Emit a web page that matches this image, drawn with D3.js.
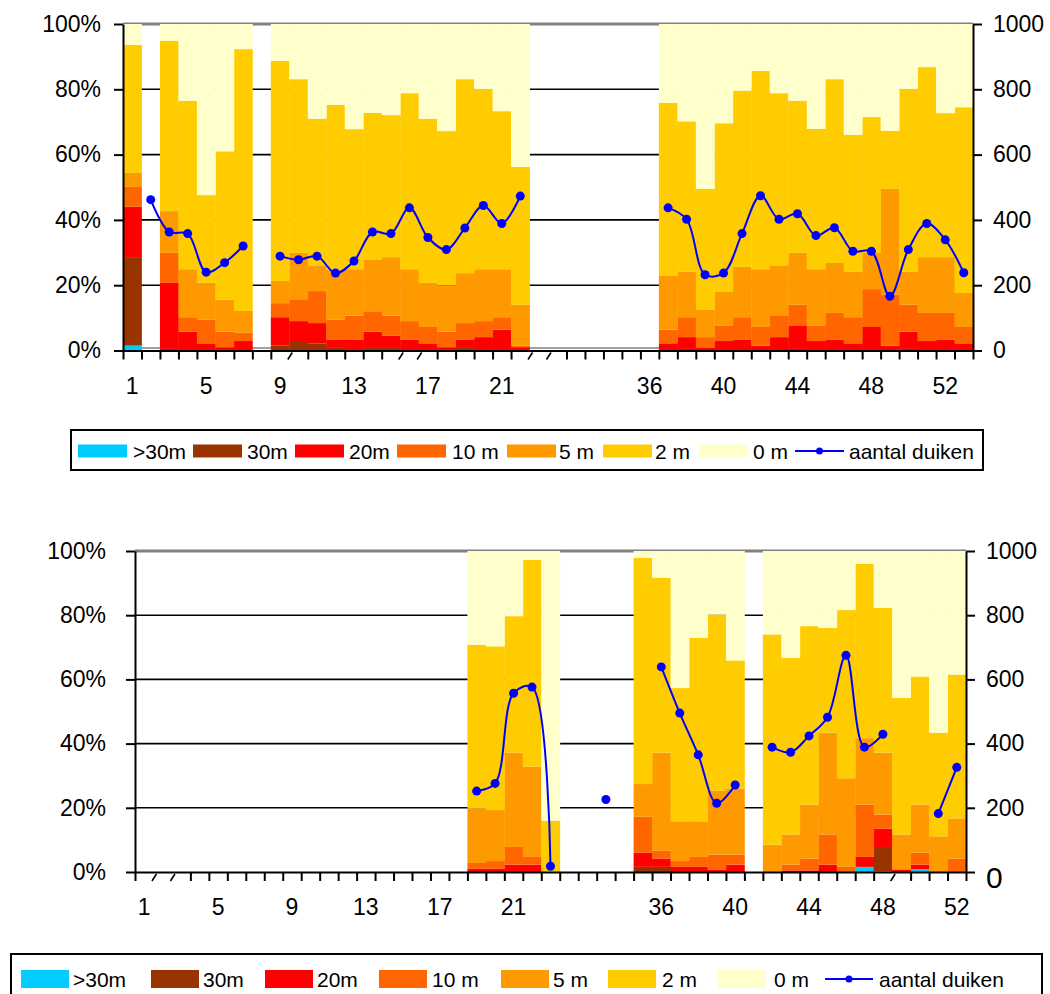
<!DOCTYPE html>
<html>
<head>
<meta charset="utf-8">
<script src="https://cdn.jsdelivr.net/npm/d3@7"></script>
<style>
  body { margin: 0; background: #fff; }
  svg { display: block; font-family: "Liberation Sans", Arial, sans-serif; }
</style>
</head>
<body>
<div id="chart"></div>
<script>
const _ = null;

// depth classes, bottom to top of each stack
const depthKeys = [">30m", "30m", "20m", "10 m", "5 m", "2 m", "0 m"];
const depthColors = ["#00ccff", "#993300", "#ff0000", "#ff6600", "#ff9900", "#ffcc00", "#ffffcc"];

// category labels (six unnamed categories between week 22 and 36)
const weeksA = ["1","2","3","4","5","6","7","8","9","10","11","12","13","14","15","16","17","18","19","20","21","22",
  "","","","","","",
  "36","37","38","39","40","41","42","43","44","45","46","47","48","49","50","51","52","53"];
const weeksB = ["1","2","3","4","5","6","7","8","9","10","11","12","13","14","15","16","17","18","19","20","21","22",
  "","","","","","",
  "36","37","38","39","40","41","42","43","44","45","46","47","48","49","50","51","52"];

// ---- upper chart: share of dives per depth (%) ----
const a_gt30 = [1.5,_,0,0,0,0,0,_,0,0,0,0,0,0,0,0,0,0,0,0,0,0,_,_,_,_,_,_,_,0,0,0,0,0,0,0,0,0,0,0,0,0,0,0,0,0];
const a_30   = [27.1,_,0.5,0,0,0,0,_,1.5,2.9,2.2,1,0,0.8,0.8,0,0,0,0.8,0,0,0,_,_,_,_,_,_,_,0,0.5,0,0,0,0,0,0.5,0,0,0,0,0,0.5,0,0,0];
const a_20   = [15.4,_,20.2,5.8,2.2,1,2.9,_,8.7,6.1,6.2,2.4,3.4,5,3.8,3.4,2.2,1,2.6,4.1,6.4,1,_,_,_,_,_,_,_,2.2,3.6,0.8,2.9,3.4,1.5,4.1,7.2,2.9,3.4,2.2,7.2,1.5,5.3,2.9,3.4,2.2];
const a_10   = [6.1,_,9.2,4.4,7.3,4.8,2.5,_,4.3,6.7,9.8,6.1,7.3,6.2,6.1,5.6,5,4.8,5,4.9,3.8,0.5,_,_,_,_,_,_,_,4.2,6.1,3.3,4.8,6.8,5.7,6.7,6.3,4.8,8.1,8,11.6,15.6,8.2,8.6,8.1,5];
const a_5    = [4.3,_,12.8,14.7,11.2,9.8,6.7,_,6.8,14.2,7.9,15.2,14.2,15.9,17.9,15.9,13.5,14.1,15.3,15.9,14.7,12.5,_,_,_,_,_,_,_,16.6,14,8.5,10.4,15.4,17.7,15.3,15.9,17.2,15.3,14,11.1,32.4,10.2,17.1,17.1,10.4];
const a_2    = [39.2,_,52.2,51.6,26.9,45.4,80.2,_,67.4,53.2,44.9,50.5,42.9,44.9,43.5,53.9,50.3,47.3,59.4,55.2,48.4,42.2,_,_,_,_,_,_,_,52.8,46,36.9,51.5,54,60.7,52.7,46.6,43,56.3,41.9,41.6,17.8,55.9,58.2,44.1,56.9];
const a_0    = [6.4,_,5.1,23.5,52.4,39,7.7,_,11.3,16.9,29,24.8,32.2,27.2,27.9,21.2,29,32.8,16.9,19.9,26.7,43.8,_,_,_,_,_,_,_,24.2,29.8,50.5,30.4,20.4,14.4,21.2,23.5,32.1,16.9,33.9,28.5,32.7,19.9,13.2,27.3,25.5];
// number of dives (right axis)
const a_dives = [_,462,363,358,240,269,320,_,289,278,289,237,274,363,358,437,346,309,375,444,389,473,_,_,_,_,_,_,_,437,402,232,237,358,474,402,419,352,376,304,304,166,309,389,339,238];

// ---- lower chart ----
const b_gt30 = [_,_,_,_,_,_,_,_,_,_,_,_,_,_,_,_,_,_,0,0,0,0,0,_,_,_,_,0,0,0,0,0,0,_,0,0,0,0,0,1.6,0.3,0,0.8,0,0];
const b_30   = [_,_,_,_,_,_,_,_,_,_,_,_,_,_,_,_,_,_,0,0,0,0,0,_,_,_,_,1.6,1.6,0,0,0,0,_,0,0,0,0,0,0,7.5,0,0,0,0];
const b_20   = [_,_,_,_,_,_,_,_,_,_,_,_,_,_,_,_,_,_,1,1,2.3,2.3,0,_,_,_,_,4.4,2.6,1.6,1.6,0.8,2.3,_,0,0.5,0.5,2.3,0,3.1,5.7,0.8,1.5,0,0];
const b_10   = [_,_,_,_,_,_,_,_,_,_,_,_,_,_,_,_,_,_,1.8,2.4,5.5,2.4,0,_,_,_,_,11.2,2.4,1.8,3.1,4.6,3.1,_,0,1.8,3.7,9.4,1.6,16.3,4.4,0,3.7,0,4.2];
const b_5    = [_,_,_,_,_,_,_,_,_,_,_,_,_,_,_,_,_,_,17,15.9,29.4,28.1,0,_,_,_,_,10.2,30.6,12.4,11.1,19.9,20.6,_,8.5,9.4,16.8,31.7,27.6,20.7,19.3,10.9,15,11.1,12.5];
const b_2    = [_,_,_,_,_,_,_,_,_,_,_,_,_,_,_,_,_,_,51,51,42.5,64.4,16,_,_,_,_,70.5,54.5,41.5,57.1,54.9,39.9,_,65.5,55,55.6,32.6,52.4,54.3,45.1,42.5,39.9,32.3,44.8];
const b_0    = [_,_,_,_,_,_,_,_,_,_,_,_,_,_,_,_,_,_,29.2,29.7,20.3,2.8,84,_,_,_,_,2.1,8.3,42.7,27.1,19.8,34.1,_,26,33.3,23.4,24,18.4,4,17.7,45.8,39.1,56.6,38.5];
const b_dives = [_,_,_,_,_,_,_,_,_,_,_,_,_,_,_,_,_,_,252,276,557,576,18,_,_,226,_,_,639,495,365,214,271,_,389,373,424,482,675,389,429,_,_,182,326];

// tick marks that come out slanted in the original
const slashA = [9, 15, 16, 22, 23];
const slashB = [1, 2, 41];

const pctTicks = [0, 0.2, 0.4, 0.6, 0.8, 1];
const diveTicks = [0, 200, 400, 600, 800, 1000];

const width = 1050, height = 994;
const svg = d3.select("#chart").append("svg")
    .attr("width", width)
    .attr("height", height)
    .attr("viewBox", [0, 0, width, height]);

function drawPanel(cfg) {
    const {labels, series, dives, box, slash, bigZero, floorLine} = cfg;
    const n = labels.length;
    const x = d3.scaleBand(d3.range(n), [box.left, box.right]);
    const xb = d3.scaleLinear([0, n], [box.left, box.right]);
    const y = d3.scaleLinear([0, 1], [box.bottom, box.top]);
    const y2 = d3.scaleLinear([0, 1000], [box.bottom, box.top]);

    const g = svg.append("g");

    // grid
    g.append("g")
        .selectAll("line")
        .data([0.2, 0.4, 0.6, 0.8])
        .join("line")
        .attr("x1", box.left).attr("x2", box.right)
        .attr("y1", d => y(d)).attr("y2", d => y(d))
        .attr("stroke", "#000").attr("stroke-width", 1.6);
    g.append("line")
        .attr("x1", box.left).attr("x2", box.right)
        .attr("y1", y(1)).attr("y2", y(1))
        .attr("stroke", "#808080").attr("stroke-width", 3);
    if (floorLine) {
        g.append("line")
            .attr("x1", box.left).attr("x2", box.right)
            .attr("y1", y(0) - 2.5).attr("y2", y(0) - 2.5)
            .attr("stroke", "#a0a0a0").attr("stroke-width", 2);
    }

    // stacked 100% bars
    const rows = d3.range(n).filter(i => series[0][i] != null).map(i => {
        const r = {i};
        depthKeys.forEach((k, j) => r[k] = series[j][i]);
        return r;
    });
    const stacked = d3.stack().keys(depthKeys).offset(d3.stackOffsetExpand)(rows);

    g.append("g")
        .selectAll("g")
        .data(stacked)
        .join("g")
        .attr("fill", (d, j) => depthColors[j])
        .selectAll("rect")
        .data(d => d)
        .join("rect")
        .attr("x", d => x(d.data.i))
        .attr("width", x.bandwidth() + 0.4)
        .attr("y", d => y(d[1]))
        .attr("height", d => Math.max(0, y(d[0]) - y(d[1])));

    // left axis
    g.append("g")
        .attr("transform", `translate(${box.left},0)`)
        .call(d3.axisLeft(y).tickValues(pctTicks).tickFormat(d3.format(".0%")).tickSize(9).tickSizeOuter(0).tickPadding(box.padL))
        .call(a => a.attr("font-size", 23).attr("font-family", null))
        .call(a => a.selectAll("line, path").attr("stroke", "#000").attr("stroke-width", 2));

    // right axis
    g.append("g")
        .attr("transform", `translate(${box.right},0)`)
        .call(d3.axisRight(y2).tickValues(diveTicks).tickFormat(d3.format("d")).tickSize(9).tickSizeOuter(0).tickPadding(11))
        .call(a => a.attr("font-size", 23).attr("font-family", null))
        .call(a => a.selectAll("line, path").attr("stroke", "#000").attr("stroke-width", 2))
        .call(a => {
            if (bigZero) a.selectAll(".tick").filter(d => d === 0).select("text")
                .attr("font-size", 30).attr("dy", "0.5em");
        });

    // category boundary ticks
    g.append("g")
        .attr("transform", `translate(0,${box.bottom})`)
        .call(d3.axisBottom(xb).tickValues(d3.range(n + 1)).tickFormat("").tickSize(9).tickSizeOuter(0))
        .call(a => a.selectAll("line, path").attr("stroke", "#000").attr("stroke-width", 2))
        .call(a => a.selectAll(".tick").filter(d => slash.includes(d)).select("line")
            .attr("x1", 2.5).attr("x2", -2).attr("y1", 2).attr("y2", 9).attr("stroke-width", 1.6));

    // category labels, every fourth one
    g.append("g")
        .attr("transform", `translate(0,${box.bottom})`)
        .call(d3.axisBottom(x).tickSize(0).tickPadding(box.padX).tickFormat(i => i % 4 === 0 ? labels[i] : ""))
        .call(a => a.attr("font-size", 23).attr("font-family", null))
        .call(a => a.select(".domain").remove());

    // number of dives
    const pts = d3.range(n).map(i => ({i, v: dives[i]}));
    const line = d3.line()
        .defined(d => d.v != null)
        .x(d => x(d.i) + x.bandwidth() / 2)
        .y(d => y2(d.v))
        .curve(d3.curveCatmullRom.alpha(0.5));

    g.append("path")
        .datum(pts)
        .attr("fill", "none")
        .attr("stroke", "#0000ff")
        .attr("stroke-width", 2)
        .attr("d", line);

    g.append("g")
        .attr("fill", "#0000ff")
        .selectAll("circle")
        .data(pts.filter(d => d.v != null))
        .join("circle")
        .attr("cx", d => x(d.i) + x.bandwidth() / 2)
        .attr("cy", d => y2(d.v))
        .attr("r", 4.5);
}

function drawLegend(cfg) {
    const {box, cy, sh, sw, swatchX, textX} = cfg;
    const g = svg.append("g");
    g.append("rect")
        .attr("x", box.x).attr("y", box.y)
        .attr("width", box.w).attr("height", box.h)
        .attr("fill", "#fff").attr("stroke", "#000").attr("stroke-width", 2);

    const names = depthKeys.concat(["aantal duiken"]);
    names.forEach((name, j) => {
        if (j < depthKeys.length) {
            g.append("rect")
                .attr("x", swatchX[j]).attr("y", cy - sh / 2)
                .attr("width", sw).attr("height", sh)
                .attr("fill", depthColors[j]);
        } else {
            g.append("line")
                .attr("x1", swatchX[j]).attr("x2", swatchX[j] + sw)
                .attr("y1", cy).attr("y2", cy)
                .attr("stroke", "#0000ff").attr("stroke-width", 2);
            g.append("circle")
                .attr("cx", swatchX[j] + sw / 2).attr("cy", cy)
                .attr("r", 3.5).attr("fill", "#0000ff");
        }
        g.append("text")
            .attr("x", textX[j]).attr("y", cy)
            .attr("dy", "0.36em")
            .attr("font-size", 21)
            .text(name);
    });
}

drawPanel({
    labels: weeksA,
    series: [a_gt30, a_30, a_20, a_10, a_5, a_2, a_0],
    dives: a_dives,
    box: {left: 123, right: 973, top: 24, bottom: 350.5, padL: 13, padX: 27},
    slash: slashA,
    bigZero: false,
    floorLine: true
});

drawPanel({
    labels: weeksB,
    series: [b_gt30, b_30, b_20, b_10, b_5, b_2, b_0],
    dives: b_dives,
    box: {left: 135, right: 966, top: 551, bottom: 872, padL: 20, padX: 27},
    slash: slashB,
    bigZero: true,
    floorLine: false
});

drawLegend({
    box: {x: 71, y: 430, w: 912, h: 40},
    cy: 451, sh: 13, sw: 49,
    swatchX: [78, 193, 295, 397, 507, 603, 699, 795],
    textX: [133, 247, 349, 452, 559, 655, 753, 849]
});

drawLegend({
    box: {x: 11, y: 954, w: 1031, h: 50},
    cy: 979, sh: 18, sw: 48,
    swatchX: [21, 151, 265, 379, 501, 608, 718, 825],
    textX: [73, 203, 317, 432, 553, 662, 774, 879]
});
</script>
</body>
</html>
